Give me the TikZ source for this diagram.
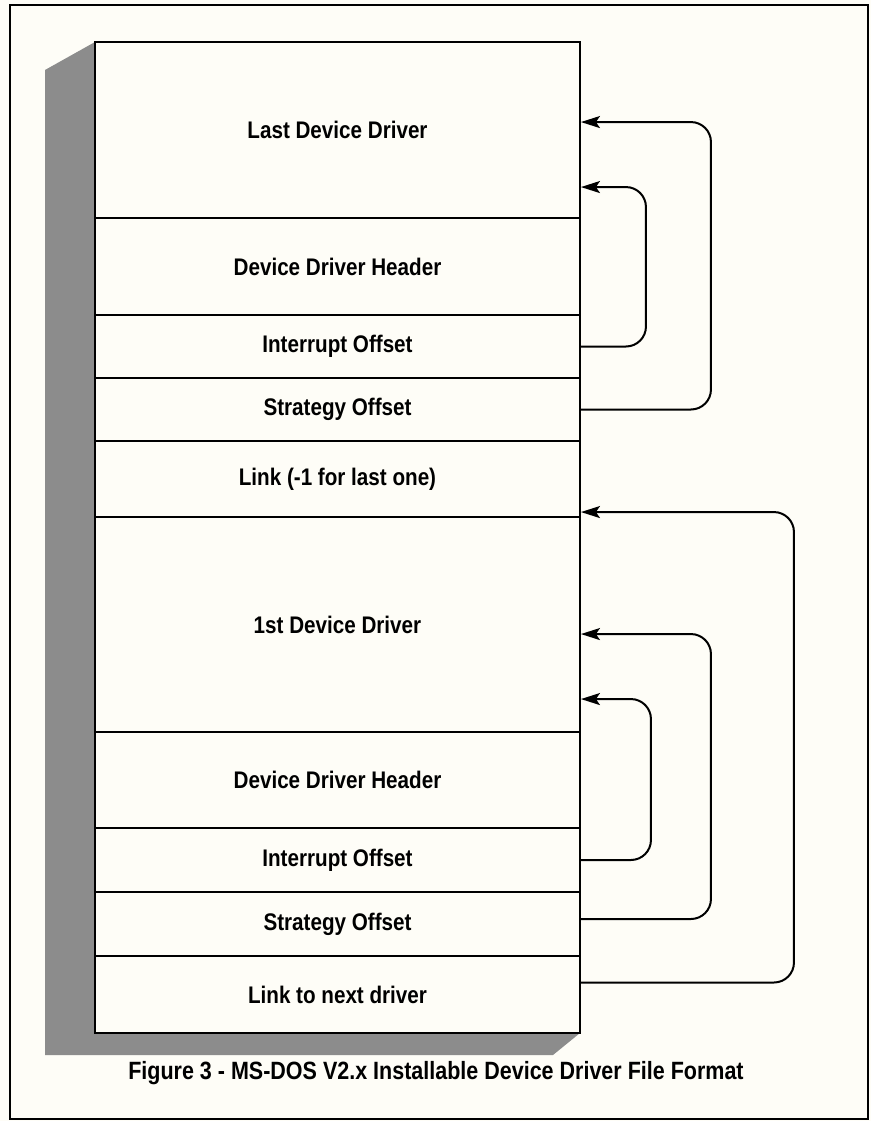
\documentclass[tikz,border=0pt]{standalone}
\usepackage{fontspec}
\setmainfont{Liberation Sans}[FakeStretch=0.86]
\usetikzlibrary{arrows.meta,calc}
\definecolor{paper}{RGB}{254,253,247}
\definecolor{shadowgray}{RGB}{140,140,140}
\begin{document}
\begin{tikzpicture}[x=1pt,y=-1pt,
  sec/.style={draw, line width=1.9pt, fill=paper, minimum width=485pt, inner sep=0pt,
    font=\bfseries\fontsize{24}{28}\selectfont},
  link/.style={line width=2pt, rounded corners=20pt,
    -{Stealth[length=19pt,width=12pt,inset=4pt]}},
  frame/.style={draw, line width=1.5pt}]
\fill[paper] (0,0) rectangle (871,1121);
\useasboundingbox (0,0) rectangle (871,1121);
\draw[frame] (10,5) rectangle (868,1119);
% shadow
\fill[shadowgray] (95,42) -- (45,70) -- (45,1055) -- (553,1055) -- (580,1033) -- cycle;
% sections
\node[sec, minimum height=176pt] (last) at (337.5,130) {Last Device Driver};
\node[sec, minimum height=97pt]  (ddh1) at (337.5,266.5) {Device Driver Header};
\node[sec, minimum height=63pt]  (io1)  at (337.5,346.5) {Interrupt Offset};
\node[sec, minimum height=63pt]  (so1)  at (337.5,409.5) {Strategy Offset};
\node[sec, minimum height=76pt]  (lnk1) at (337.5,479) {Link (-1 for last one)};
\node[sec, minimum height=215pt] (first) at (337.5,624.5) {1st Device Driver};
\node[sec, minimum height=96pt]  (ddh2) at (337.5,780) {Device Driver Header};
\node[sec, minimum height=64pt]  (io2)  at (337.5,860) {Interrupt Offset};
\node[sec, minimum height=64pt]  (so2)  at (337.5,924) {Strategy Offset};
\node[sec, minimum height=77pt]  (lnk2) at (337.5,994.5) {Link to next driver};
% targets
\coordinate (t1) at ($(last.north east)+(0,81)$);
\coordinate (t2) at ($(last.north east)+(0,146)$);
\coordinate (t3) at ($(first.north east)+(0,-4)$);
\coordinate (t4) at ($(first.north east)+(0,118)$);
\coordinate (t5) at ($(first.north east)+(0,183)$);
% links
\draw[link] (so1.east) -| ($(t1)+(130,0)$) -- (t1);
\draw[link] (io1.east) -| ($(t2)+(65,0)$) -- (t2);
\draw[link] ([yshift=12pt]lnk2.east) -| ($(t3)+(213,0)$) -- (t3);
\draw[link] ([yshift=5pt]so2.east) -| ($(t4)+(130,0)$) -- (t4);
\draw[link] (io2.east) -| ($(t5)+(70,0)$) -- (t5);
% caption
\node[font=\bfseries\fontsize{25}{29}\selectfont] (cap) at (436,1073)
  {Figure 3 - MS-DOS V2.x Installable Device Driver File Format};
\end{tikzpicture}
\end{document}
